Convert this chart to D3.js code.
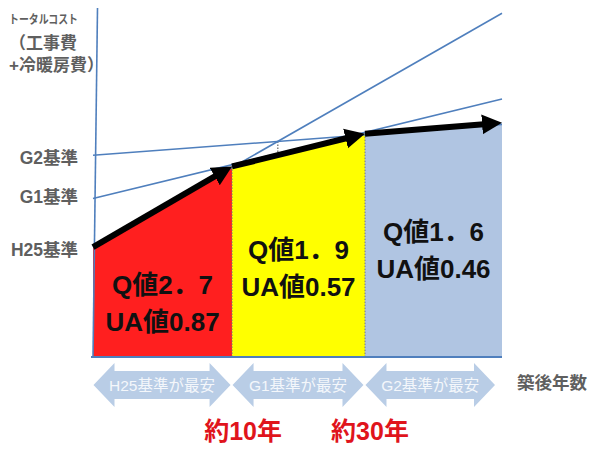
<!DOCTYPE html>
<html>
<head>
<meta charset="utf-8">
<script src="https://cdn.jsdelivr.net/npm/d3@7"></script>
<style>
  body { margin: 0; background: #fff; }
  text { font-family: "Liberation Sans", "Noto Sans CJK JP", sans-serif; }
</style>
</head>
<body>
<svg></svg>
<script>
var svgWidth = 600;
var svgHeight = 456;

/* cost lines of each standard (value at start / end of the period) */
var standards = ['H25基準', 'G1基準', 'G2基準'];
var costAtStart = [31.5, 45.4, 57.8];
var costAtEnd = [98.5, 73.9, 66.6];

/* cheapest path (breakpoints along the years axis) */
var pathPos = [0, 34, 66.5, 100];
var pathCost = [31.5, 54.6, 64.0, 67.1];

/* region labels */
var regionQ = ['Q値2．7', 'Q値1．9', 'Q値1．6'];
var regionUA = ['UA値0.87', 'UA値0.57', 'UA値0.46'];
var cheapestLabels = ['H25基準が最安', 'G1基準が最安', 'G2基準が最安'];
var breakLabels = ['約10年', '約30年'];
var yTitle = ['トータルコスト', '（工事費', '+冷暖房費）'];
var xTitle = '築後年数';

var regionColors = ['#ff1f1f', '#ffff00', '#b0c5e2'];
var lineColor = '#4f7fbd';
var gray = '#5f5f5f';

var svg = d3.select('svg')
    .attr('width', svgWidth)
    .attr('height', svgHeight);

var x = d3.scaleLinear().domain([0, 100]).range([93, 502]);
var y = d3.scaleLinear().domain([0, 100]).range([357, 8]);

/* value of a standard's line at position t */
function lineAt(i, t){
    return costAtStart[i] + (costAtEnd[i] - costAtStart[i]) * t / 100;
}

/* value of the cheapest path at position t */
function pathAt(t){
    for(var i = 0; i < pathPos.length - 1; i++){
        if(t <= pathPos[i + 1]){
            var k = (t - pathPos[i]) / (pathPos[i + 1] - pathPos[i]);
            return pathCost[i] + (pathCost[i + 1] - pathCost[i]) * k;
        }
    }
    return pathCost[pathCost.length - 1];
}

/* coloured regions under the cheapest path */
var area = d3.area().x(d => x(d[0])).y0(y(0)).y1(d => y(d[1]));
d3.range(3).forEach(i => {
    svg.append('path')
        .attr('d', area([[pathPos[i], pathCost[i]], [pathPos[i + 1], pathCost[i + 1]]]))
        .style('fill', regionColors[i]);
});

/* dotted boundaries */
[1, 2].forEach(i => {
    svg.append('line')
        .attr('x1', x(pathPos[i])).attr('x2', x(pathPos[i]))
        .attr('y1', y(pathCost[i])).attr('y2', y(0))
        .style('stroke', '#777').style('stroke-width', 1)
        .style('stroke-dasharray', '1.5,1.5');
});

/* crossing of H25 and G2 lines */
var tCross = (costAtStart[2] - costAtStart[0]) /
    ((costAtEnd[0] - costAtStart[0]) - (costAtEnd[2] - costAtStart[2])) * 100;
svg.append('line')
    .attr('x1', x(tCross)).attr('x2', x(tCross))
    .attr('y1', y(lineAt(0, tCross))).attr('y2', y(pathAt(tCross)))
    .style('stroke', '#666').style('stroke-width', 1.2)
    .style('stroke-dasharray', '1.5,1.5');

/* standard cost lines */
standards.forEach((s, i) => {
    svg.append('line')
        .attr('x1', x(0)).attr('y1', y(costAtStart[i]))
        .attr('x2', x(100)).attr('y2', y(costAtEnd[i]))
        .style('stroke', lineColor).style('stroke-width', 1.6);
});

/* axes */
svg.append('line')
    .attr('x1', x(0)).attr('y1', y(0))
    .attr('x2', x(0) + 4.5).attr('y2', y(100))
    .style('stroke', lineColor).style('stroke-width', 1.6);
svg.append('line')
    .attr('x1', x(0) - 2).attr('y1', y(0))
    .attr('x2', x(100)).attr('y2', y(0))
    .style('stroke', lineColor).style('stroke-width', 1.8);

/* black arrows along the cheapest path */
svg.append('defs').append('marker')
    .attr('id', 'head')
    .attr('markerUnits', 'userSpaceOnUse')
    .attr('viewBox', '0 -11 22 22')
    .attr('markerWidth', 22).attr('markerHeight', 22)
    .attr('refX', 8).attr('refY', 0)
    .attr('orient', 'auto')
    .append('path')
    .attr('d', 'M0,-10L20,0L0,10Z')
    .style('fill', '#000');

d3.range(3).forEach(i => {
    var x1 = x(pathPos[i]), y1 = y(pathCost[i]);
    var x2 = x(pathPos[i + 1]), y2 = y(pathCost[i + 1]);
    var len = Math.hypot(x2 - x1, y2 - y1);
    var ux = (x2 - x1) / len, uy = (y2 - y1) / len;
    svg.append('line')
        .attr('x1', x1).attr('y1', y1)
        .attr('x2', x2 - ux * 12).attr('y2', y2 - uy * 12)
        .style('stroke', '#000').style('stroke-width', 6)
        .attr('marker-end', 'url(#head)');
});

/* region texts */
var qY = [285, 250, 232];
d3.range(3).forEach(i => {
    var cx = (x(pathPos[i]) + x(pathPos[i + 1])) / 2;
    svg.append('text')
        .text(regionQ[i])
        .attr('x', cx).attr('y', qY[i])
        .attr('text-anchor', 'middle').attr('dominant-baseline', 'central')
        .style('font-size', '26px').style('font-weight', 'bold').style('fill', '#111');
    svg.append('text')
        .text(regionUA[i])
        .attr('x', cx).attr('y', qY[i] + 37)
        .attr('text-anchor', 'middle').attr('dominant-baseline', 'central')
        .style('font-size', '26px').style('font-weight', 'bold').style('fill', '#111');
});

/* y labels of the standards */
standards.forEach((s, i) => {
    svg.append('text')
        .text(s)
        .attr('x', 78).attr('y', y(costAtStart[i]) + [3, -2, 3][i])
        .attr('text-anchor', 'end').attr('dominant-baseline', 'central')
        .style('font-size', '17.5px').style('font-weight', 'bold').style('fill', gray);
});

/* y title */
yTitle.forEach((t, i) => {
    var tx = svg.append('text')
        .text(t)
        .attr('x', 9).attr('y', [20, 43, 65][i])
        .attr('dominant-baseline', 'central')
        .style('font-size', i == 0 ? '12px' : '17px')
        .style('font-weight', 'bold').style('fill', gray);
    if(i == 0) tx.attr('textLength', 69).attr('lengthAdjust', 'spacingAndGlyphs');
});

/* bottom double arrows */
var arrowY = 385;
d3.range(3).forEach(i => {
    var a = x(pathPos[i]) + 0.5;
    var b = x(pathPos[i + 1]) - (i == 2 ? 7 : 1.5);
    var h = 22, bh = 14, hl = 21;
    var pts = [
        [a, arrowY], [a + hl, arrowY - h], [a + hl, arrowY - bh],
        [b - hl, arrowY - bh], [b - hl, arrowY - h], [b, arrowY],
        [b - hl, arrowY + h], [b - hl, arrowY + bh], [a + hl, arrowY + bh],
        [a + hl, arrowY + h]
    ];
    svg.append('path')
        .attr('d', d3.line()(pts) + 'Z')
        .style('fill', '#b9cde6');
    svg.append('text')
        .text(cheapestLabels[i])
        .attr('x', (a + b) / 2).attr('y', arrowY)
        .attr('text-anchor', 'middle').attr('dominant-baseline', 'central')
        .style('font-size', '15.5px').style('fill', '#f4f7fb');
});

svg.append('text')
    .text(xTitle)
    .attr('x', 552).attr('y', 383)
    .attr('text-anchor', 'middle').attr('dominant-baseline', 'central')
    .style('font-size', '17.5px').style('font-weight', 'bold').style('fill', gray);

/* break year labels */
breakLabels.forEach((t, i) => {
    svg.append('text')
        .text(t)
        .attr('x', x(pathPos[i + 1]) + [11, 5][i]).attr('y', 431)
        .attr('text-anchor', 'middle').attr('dominant-baseline', 'central')
        .style('font-size', '25px').style('font-weight', 'bold').style('fill', '#e0141c');
});
</script>
</body>
</html>
